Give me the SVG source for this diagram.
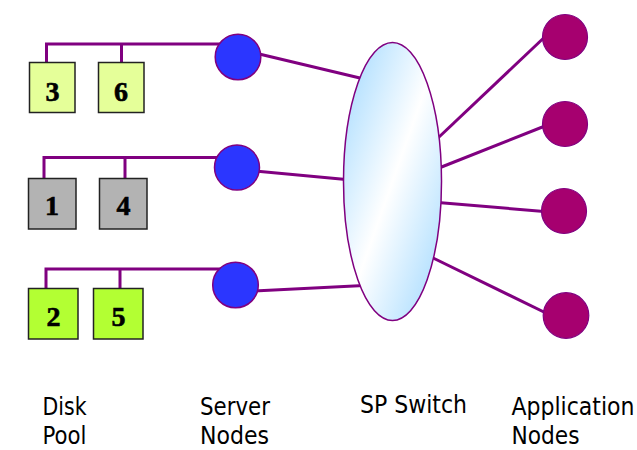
<svg xmlns="http://www.w3.org/2000/svg" width="637" height="450" viewBox="0 0 637 450">
  <style>
    .wire { stroke: #800080; stroke-width: 3; fill: none; stroke-linecap: butt; }
    .disk { stroke: #222; stroke-width: 1.5; }
    .digit { font-family: "Liberation Serif", "DejaVu Serif", serif; font-weight: bold; font-size: 28px; text-anchor: middle; fill: #000; stroke: #000; stroke-width: 0.6; }
    .server { fill: #2b36ff; stroke: #800080; stroke-width: 1.5; }
    .app { fill: #a6006f; stroke: #800080; stroke-width: 1.2; }
    .label { font-family: "DejaVu Sans", "Liberation Sans", sans-serif; font-size: 22px; fill: #000; }
  </style>
  <defs>
    <linearGradient id="switchFill" x1="0" y1="0" x2="1" y2="1">
      <stop offset="0" stop-color="#9fd8ff"/>
      <stop offset="0.5" stop-color="#ffffff"/>
      <stop offset="1" stop-color="#9fd8ff"/>
    </linearGradient>
  </defs>
  <rect width="637" height="450" fill="#fff"/>

  <!-- connectors -->
  <g id="connectors">
    <!-- disk buses -->
    <polyline class="wire" points="46.5,62 46.5,44 225,44"/>
    <line class="wire" x1="121.5" y1="44" x2="121.5" y2="62"/>
    <polyline class="wire" points="44,178 44,157.5 225,157.5"/>
    <line class="wire" x1="125" y1="157.5" x2="125" y2="178"/>
    <polyline class="wire" points="46,288 46,269 225,269"/>
    <line class="wire" x1="120" y1="269" x2="120" y2="288"/>
    <!-- server nodes to switch -->
    <line class="wire" x1="255" y1="53" x2="362" y2="78.5"/>
    <line class="wire" x1="255" y1="171" x2="346" y2="179.5"/>
    <line class="wire" x1="252" y1="291" x2="364" y2="285.5"/>
    <!-- switch to application nodes -->
    <line class="wire" x1="438" y1="138" x2="550" y2="32"/>
    <line class="wire" x1="439" y1="168" x2="550" y2="124"/>
    <line class="wire" x1="438" y1="202.5" x2="550" y2="212"/>
    <line class="wire" x1="429" y1="256" x2="550" y2="315"/>
  </g>

  <!-- disk pool -->
  <g id="disk3"><rect class="disk" x="29.5" y="62.5" width="45.5" height="50" fill="#e5ff99"/><text class="digit" x="52.5" y="100.5">3</text></g>
  <g id="disk6"><rect class="disk" x="98.5" y="62.5" width="45.5" height="50" fill="#e5ff99"/><text class="digit" x="121" y="100.5">6</text></g>
  <g id="disk1"><rect class="disk" x="28.5" y="178.5" width="47.5" height="50.5" fill="#b3b3b3"/><text class="digit" x="52" y="215">1</text></g>
  <g id="disk4"><rect class="disk" x="99.5" y="178.5" width="47.5" height="50.5" fill="#b3b3b3"/><text class="digit" x="123.5" y="215">4</text></g>
  <g id="disk2"><rect class="disk" x="28.5" y="288.5" width="49.5" height="50.5" fill="#b3ff33"/><text class="digit" x="53.5" y="325.5">2</text></g>
  <g id="disk5"><rect class="disk" x="93.5" y="288.5" width="49.5" height="50.5" fill="#b3ff33"/><text class="digit" x="118.5" y="325.5">5</text></g>

  <!-- server nodes -->
  <g id="server1"><circle class="server" cx="238" cy="57" r="22.8"/></g>
  <g id="server2"><circle class="server" cx="237" cy="167.5" r="22.5"/></g>
  <g id="server3"><circle class="server" cx="235.5" cy="285" r="22.8"/></g>

  <!-- SP switch -->
  <g id="switch"><ellipse cx="392.5" cy="181.5" rx="49" ry="139" fill="url(#switchFill)" stroke="#800080" stroke-width="1.5"/></g>

  <!-- application nodes -->
  <g id="app1"><circle class="app" cx="565" cy="37" r="22.5"/></g>
  <g id="app2"><circle class="app" cx="565" cy="124" r="22.5"/></g>
  <g id="app3"><circle class="app" cx="564" cy="211" r="22.5"/></g>
  <g id="app4"><circle class="app" cx="566" cy="315.5" r="22.8"/></g>

  <!-- captions: slightly tall, narrow lettering -->
  <g id="captions">
    <text class="label" transform="translate(42.5,415) scale(1,1.12)" textLength="44" lengthAdjust="spacingAndGlyphs">Disk</text>
    <text class="label" transform="translate(42.5,444) scale(1,1.12)" textLength="44" lengthAdjust="spacingAndGlyphs">Pool</text>
    <text class="label" transform="translate(200,415) scale(1,1.12)" textLength="70" lengthAdjust="spacingAndGlyphs">Server</text>
    <text class="label" transform="translate(200,444) scale(1,1.12)" textLength="69" lengthAdjust="spacingAndGlyphs">Nodes</text>
    <text class="label" transform="translate(360,412.5) scale(1,1.12)" textLength="107" lengthAdjust="spacingAndGlyphs">SP Switch</text>
    <text class="label" transform="translate(511.5,415) scale(1,1.12)" textLength="123" lengthAdjust="spacingAndGlyphs">Application</text>
    <text class="label" transform="translate(511.5,444) scale(1,1.12)" textLength="68" lengthAdjust="spacingAndGlyphs">Nodes</text>
  </g>
</svg>
